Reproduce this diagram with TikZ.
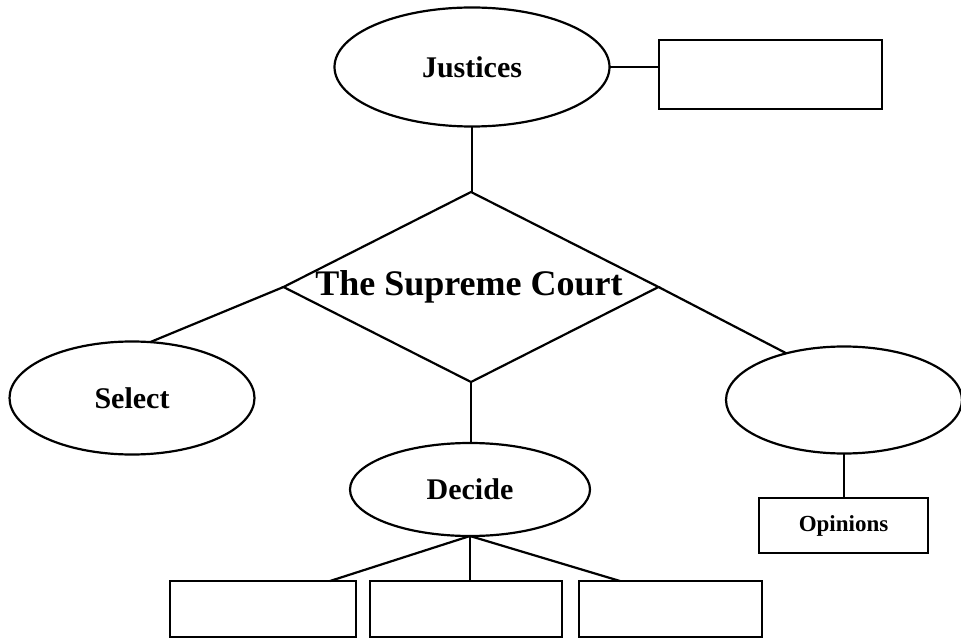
\documentclass[tikz,border=0pt]{standalone}
\usepackage{fontspec}
\setmainfont{Liberation Serif}
\usetikzlibrary{shapes.geometric}
\begin{document}
\begin{tikzpicture}[x=1pt,y=-1pt,
  every node/.style={inner sep=0pt, outer sep=0pt},
  ell/.style={draw, ellipse, line width=2.2pt, font=\bfseries\fontsize{30}{30}\selectfont},
  box/.style={draw, rectangle, line width=2.2pt},
  conn/.style={line width=2.2pt}]
\useasboundingbox (0,0) rectangle (961,639);
% nodes
\node[ell, minimum width=275pt, minimum height=119pt] (J) at (472,67) {Justices};
\node[box, minimum width=223pt, minimum height=69pt] (JR) at (770.5,74.5) {};
\node[draw, diamond, line width=2.2pt, minimum width=375pt, minimum height=190pt] (SC) at (471,287) {};
\node[font=\bfseries\fontsize{36}{36}\selectfont] (SCT) at (469,287) {The Supreme Court};
\node[ell, minimum width=245pt, minimum height=113pt] (S) at (132,398) {Select};
\node[ell, minimum width=236pt, minimum height=107pt] (O) at (844,400) {};
\node[box, minimum width=169pt, minimum height=55pt, font=\bfseries\fontsize{23}{23}\selectfont] (OP) at (843.5,525.5) {Opinions};
\node[ell, minimum width=240pt, minimum height=93pt] (D) at (470,489.5) {Decide};
\node[box, minimum width=186pt, minimum height=56pt] (B1) at (263,609) {};
\node[box, minimum width=192pt, minimum height=56pt] (B2) at (466,609) {};
\node[box, minimum width=183pt, minimum height=56pt] (B3) at (670.5,609) {};
% connectors
\draw[conn] (J.south) -- (J.south |- SC.north);
\draw[conn] (J.east) -- (J.east -| JR.west);
\draw[conn] (SC.west) -- (S.72);
\draw[conn] (SC.east) -- (O.141);
\draw[conn] (SC.south) -- (SC.south |- D.north);
\draw[conn] (O.south) -- (O.south |- OP.north);
\draw[conn] (D.south) -- ([xshift=-26pt]B1.north east);
\draw[conn] (D.south) -- (D.south |- B2.north);
\draw[conn] (D.south) -- ([xshift=41pt]B3.north west);
\end{tikzpicture}
\end{document}
